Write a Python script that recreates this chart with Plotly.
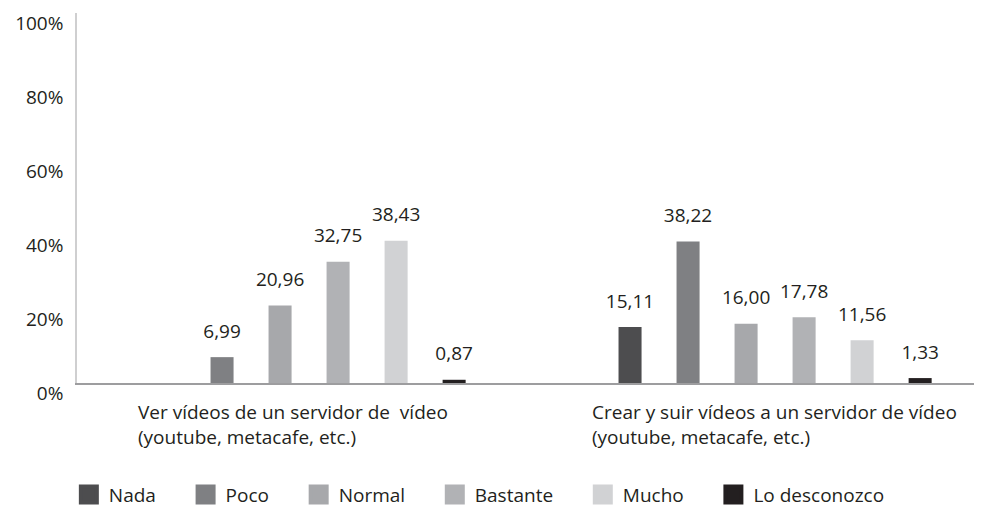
import plotly.graph_objects as go

FONT = "Open Sans, sans-serif"
TEXT = "#231f20"

categories = [
    "Ver vídeos de un servidor de  vídeo<br>(youtube, metacafe, etc.)",
    "Crear y suir vídeos a un servidor de vídeo<br>(youtube, metacafe, etc.)",
]
series_names = ["Nada", "Poco", "Normal", "Bastante", "Mucho", "Lo desconozco"]
nada = [None, 15.11]
poco = [6.99, 38.22]
normal = [20.96, 16.00]
bastante = [32.75, 17.78]
mucho = [38.43, 11.56]
lo_desconozco = [0.87, 1.33]
y_ticks = [0, 20, 40, 60, 80, 100]
y_tick_labels = ["0%", "20%", "40%", "60%", "80%", "100%"]

COLORS = ["#4d4d4f", "#7f8083", "#a7a8ab", "#b1b2b5", "#d1d2d4", "#231f20"]
SERIES = [nada, poco, normal, bastante, mucho, lo_desconozco]


def _fmt(v):
    return "" if v is None else f"{v:.2f}".replace(".", ",")


fig = go.Figure()

for name, vals, col in zip(series_names, SERIES, COLORS):
    fig.add_trace(go.Bar(
        x=categories, y=vals, name=name, offsetgroup=name,
        marker=dict(color=col, line_width=0), showlegend=False,
    ))
    # value labels, grouped like the bars
    fig.add_trace(go.Scatter(
        x=categories, y=vals, offsetgroup=name, mode="markers+text",
        text=[_fmt(v) for v in vals], textposition="top center",
        textfont=dict(size=19, color=TEXT, family=FONT),
        marker=dict(size=22, opacity=0), showlegend=False, hoverinfo="skip",
    ))
    # legend entry with a larger square
    fig.add_trace(go.Scatter(
        x=[None], y=[None], mode="markers", name=name + "\u00a0" * 5,
        marker=dict(symbol="square", size=16, color=col, line=dict(color=col, width=4)),
    ))

for i, cat in enumerate(categories):
    fig.add_annotation(
        x=[0.065, 0.5667][i], xref="paper", xanchor="left",
        y=0, yref="paper", yanchor="top", yshift=-14,
        text=cat, align="left", showarrow=False,
        font=dict(size=19, color=TEXT, family=FONT),
    )

# the page adds an 8px body margin, so the figure is 8px smaller each way
fig.update_layout(
    width=974, height=506,
    margin=dict(l=69, r=0, t=5, b=131),
    paper_bgcolor="white", plot_bgcolor="white",
    font=dict(family=FONT, size=19, color=TEXT),
    barmode="group", bargap=0.253, bargroupgap=0.603,
    scattermode="group", scattergap=0.253,
    legend=dict(
        orientation="h", x=-0.009, xanchor="left", y=-0.302, yanchor="middle",
        font=dict(size=19, color=TEXT), itemsizing="trace",
        bgcolor="rgba(0,0,0,0)",
    ),
    xaxis=dict(
        type="category", range=[-0.498, 1.444], showticklabels=False,
        showline=True, linecolor="#9d9d9f", linewidth=1.5, showgrid=False,
        zeroline=False, ticks="", automargin=False,
    ),
    yaxis=dict(
        range=[0, 100], tickvals=y_ticks, ticktext=y_tick_labels, showgrid=False,
        showline=True, linecolor="#cfcfd0", linewidth=1.5, zeroline=False,
        ticks="", ticklabelshift=10, ticklabelstandoff=8, automargin=False,
        tickfont=dict(size=19, color=TEXT),
    ),
)

fig.write_html("out.html")
